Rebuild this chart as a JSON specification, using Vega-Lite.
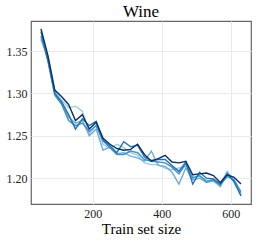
{
  "$schema": "https://vega.github.io/schema/vega-lite/v6.json",
  "width": 220,
  "height": 183,
  "autosize": {"type": "none"},
  "padding": {"left": 31, "top": 21, "right": 7, "bottom": 38},
  "background": "white",
  "title": {"text": "Wine", "font": "Liberation Serif", "fontSize": 17, "fontWeight": "normal", "color": "#000", "offset": 0},
  "config": {
    "view": {"stroke": "#666", "strokeWidth": 1.2},
    "axis": {"labelFont": "Liberation Serif", "titleFont": "Liberation Serif", "labelColor": "#222", "titleColor": "#000", "domain": false, "ticks": false, "gridColor": "#ebebeb", "gridWidth": 1}
  },
  "data": {"values": [
    {"x":50,"s1":1.363,"s2":1.365,"s3":1.368,"s4":1.373,"s5":1.376},
    {"x":70,"s1":1.344,"s2":1.342,"s3":1.338,"s4":1.340,"s5":1.345},
    {"x":90,"s1":1.302,"s2":1.300,"s3":1.298,"s4":1.300,"s5":1.304},
    {"x":110,"s1":1.292,"s2":1.288,"s3":1.287,"s4":1.290,"s5":1.296},
    {"x":130,"s1":1.283,"s2":1.272,"s3":1.268,"s4":1.275,"s5":1.287},
    {"x":150,"s1":1.285,"s2":1.265,"s3":1.262,"s4":1.258,"s5":1.268},
    {"x":170,"s1":1.279,"s2":1.268,"s3":1.265,"s4":1.270,"s5":1.275},
    {"x":190,"s1":1.252,"s2":1.250,"s3":1.255,"s4":1.262,"s5":1.258},
    {"x":210,"s1":1.263,"s2":1.258,"s3":1.262,"s4":1.267,"s5":1.266},
    {"x":230,"s1":1.240,"s2":1.233,"s3":1.244,"s4":1.245,"s5":1.247},
    {"x":250,"s1":1.235,"s2":1.237,"s3":1.236,"s4":1.238,"s5":1.240},
    {"x":270,"s1":1.240,"s2":1.229,"s3":1.228,"s4":1.230,"s5":1.235},
    {"x":290,"s1":1.236,"s2":1.230,"s3":1.228,"s4":1.243,"s5":1.233},
    {"x":310,"s1":1.230,"s2":1.226,"s3":1.232,"s4":1.237,"s5":1.234},
    {"x":330,"s1":1.227,"s2":1.224,"s3":1.230,"s4":1.239,"s5":1.240},
    {"x":350,"s1":1.218,"s2":1.220,"s3":1.222,"s4":1.225,"s5":1.228},
    {"x":370,"s1":1.216,"s2":1.232,"s3":1.220,"s4":1.221,"s5":1.220},
    {"x":390,"s1":1.216,"s2":1.215,"s3":1.219,"s4":1.222,"s5":1.223},
    {"x":410,"s1":1.212,"s2":1.214,"s3":1.218,"s4":1.222,"s5":1.227},
    {"x":430,"s1":1.210,"s2":1.207,"s3":1.213,"s4":1.215,"s5":1.219},
    {"x":450,"s1":1.212,"s2":1.193,"s3":1.205,"s4":1.208,"s5":1.218},
    {"x":470,"s1":1.214,"s2":1.212,"s3":1.217,"s4":1.219,"s5":1.220},
    {"x":490,"s1":1.202,"s2":1.198,"s3":1.200,"s4":1.193,"s5":1.204},
    {"x":510,"s1":1.202,"s2":1.200,"s3":1.203,"s4":1.207,"s5":1.205},
    {"x":530,"s1":1.198,"s2":1.195,"s3":1.196,"s4":1.200,"s5":1.206},
    {"x":550,"s1":1.196,"s2":1.197,"s3":1.198,"s4":1.199,"s5":1.203},
    {"x":570,"s1":1.193,"s2":1.190,"s3":1.192,"s4":1.193,"s5":1.195},
    {"x":590,"s1":1.208,"s2":1.207,"s3":1.202,"s4":1.205,"s5":1.204},
    {"x":610,"s1":1.197,"s2":1.195,"s3":1.198,"s4":1.196,"s5":1.201},
    {"x":630,"s1":1.185,"s2":1.180,"s3":1.183,"s4":1.179,"s5":1.193}
  ]},
  "transform": [{"fold": ["s1","s2","s3","s4","s5"], "as": ["series","value"]}],
  "mark": {"type": "line", "strokeWidth": 1.4, "clip": true},
  "encoding": {
    "x": {"field": "x", "type": "quantitative", "scale": {"domain": [21, 659], "nice": false, "zero": false},
      "axis": {"values": [200,400,600], "title": "Train set size", "labelFontSize": 12, "titleFontSize": 15, "labelPadding": 4, "titlePadding": 2, "titleFontWeight": "normal"}},
    "y": {"field": "value", "type": "quantitative", "scale": {"domain": [1.1695, 1.3855], "nice": false, "zero": false},
      "axis": {"values": [1.20,1.25,1.30,1.35], "format": ".2f", "title": null, "labelFontSize": 12, "labelPadding": 4}},
    "color": {"field": "series", "type": "nominal", "legend": null,
      "scale": {"domain": ["s1","s2","s3","s4","s5"], "range": ["#9ecae1","#6baed6","#4292c6","#2171b5","#08306b"]}},
    "order": {"field": "series"}
  }
}
